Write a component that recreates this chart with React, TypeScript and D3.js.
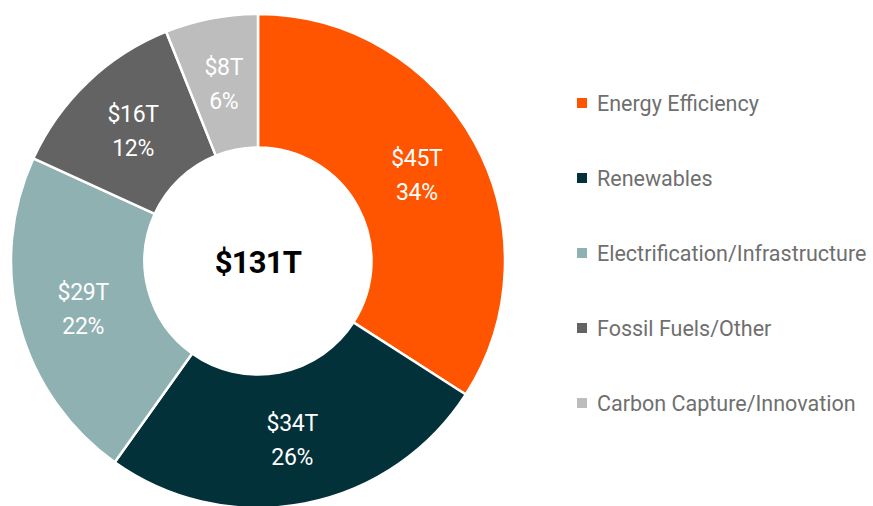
import * as d3 from 'd3';

const categories = ['Energy Efficiency', 'Renewables', 'Electrification/Infrastructure', 'Fossil Fuels/Other', 'Carbon Capture/Innovation'];
const values = [45, 34, 29, 16, 8];
const percents = [34, 26, 22, 12, 6];
const colors = ['#ff5500', '#03313a', '#8fb1b2', '#636363', '#bdbdbd'];
const totalLabel = '$131T';

const App = () => {
    const width = 873;
    const height = 506;
    const cx = 258;
    const cy = 261;
    const outerR = 247;
    const innerR = 113.5;
    const labelR = 181;

    const pie = d3.pie<number>().sort(null).value((d: number) => d);
    const slices = pie(values);
    const arc = d3.arc<any>().innerRadius(innerR).outerRadius(outerR);
    const labelArc = d3.arc<any>().innerRadius(labelR).outerRadius(labelR);

    // legend rows
    const legendY = d3.scalePoint<string>().domain(categories).range([103, 403]);

    const font = 'Roboto, "Open Sans", sans-serif';

    return (
        <svg width={width} height={height} style={{ position: 'absolute', left: 0, top: 0 }}>
            <rect width={width} height={height} fill="#fff" />
            <g transform={`translate(${cx},${cy})`}>
                {slices.map((s: any, i: number) => (
                    <path key={i} d={arc(s) as string} fill={colors[i]} stroke="#fff" strokeWidth={2.5} />
                ))}
                {slices.map((s: any, i: number) => {
                    const [x, y] = labelArc.centroid(s);
                    return (
                        <text key={'l' + i} x={x} y={y} fill="#fff" fontFamily={font} fontSize={23} textAnchor="middle" letterSpacing={-0.3}>
                            <tspan x={x} dy={-8}>${values[i]}T</tspan>
                            <tspan x={x} dy={34}>{percents[i]}%</tspan>
                        </text>
                    );
                })}
                <text x={0} y={12} textAnchor="middle" fontFamily={font} fontWeight={700} fontSize={31} letterSpacing={-0.8} fill="#000">{totalLabel}</text>
            </g>
            <g>
                {categories.map((c, i) => (
                    <g key={c} transform={`translate(577,${legendY(c)})`}>
                        <rect x={0} y={-5} width={10} height={10} fill={colors[i]} />
                        <text x={20} y={0} dy="0.36em" fontFamily={font} fontSize={21.5} fill="#6f6f6f">{c}</text>
                    </g>
                ))}
            </g>
        </svg>
    );
};

export default App;
